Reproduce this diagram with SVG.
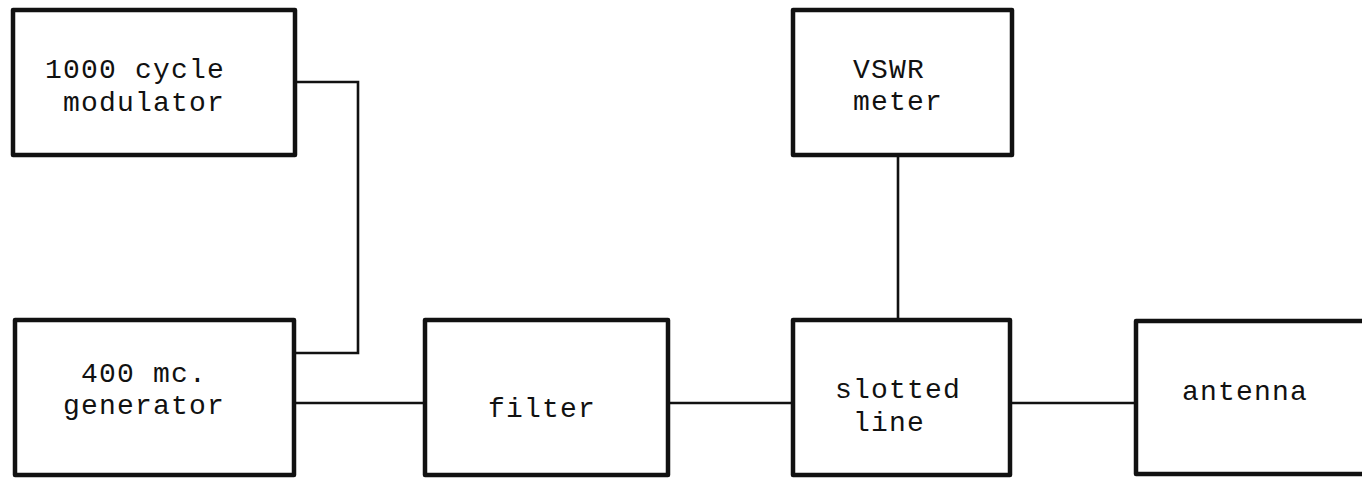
<svg xmlns="http://www.w3.org/2000/svg" width="1362" height="479" viewBox="0 0 1362 479">
<style>
.box{fill:#fff;stroke:#111;stroke-width:4.5;stroke-linejoin:round}
.wire{fill:none;stroke:#111;stroke-width:2.6}
.lbl{font-family:"Liberation Mono","Courier New",monospace;font-size:28px;letter-spacing:1.2px;fill:#111}
</style>
<rect width="1362" height="479" fill="#fff"/>
<g id="connectors">
<path class="wire" d="M295 82 H358 V353 H294"/>
<path class="wire" d="M294 403 H425"/>
<path class="wire" d="M668 403 H793"/>
<path class="wire" d="M1010 403 H1136"/>
<path class="wire" d="M898 155 V320"/>
</g>
<g id="modulator">
<rect class="box" x="13" y="10" width="282" height="145"/>
<text class="lbl" x="45" y="78">1000 cycle</text>
<text class="lbl" x="63" y="111">modulator</text>
</g>
<g id="generator">
<rect class="box" x="15" y="320" width="279" height="155"/>
<text class="lbl" x="81" y="382">400 mc.</text>
<text class="lbl" x="63" y="414">generator</text>
</g>
<g id="filter">
<rect class="box" x="425" y="320" width="243" height="155"/>
<text class="lbl" x="488" y="417">filter</text>
</g>
<g id="vswr">
<rect class="box" x="793" y="10" width="219" height="145"/>
<text class="lbl" x="853" y="78">VSWR</text>
<text class="lbl" x="853" y="110">meter</text>
</g>
<g id="slotted">
<rect class="box" x="793" y="320" width="217" height="155"/>
<text class="lbl" x="835" y="398">slotted</text>
<text class="lbl" x="853" y="431">line</text>
</g>
<g id="antenna">
<rect class="box" x="1136" y="321" width="240" height="153"/>
<text class="lbl" x="1182" y="400">antenna</text>
</g>
</svg>
